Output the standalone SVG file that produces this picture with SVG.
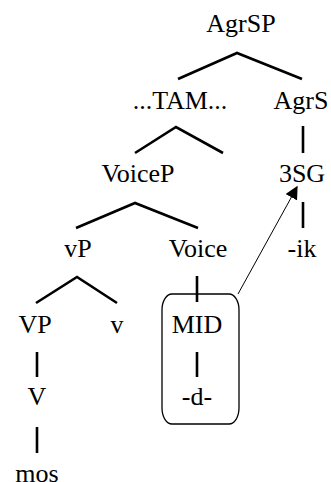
<svg xmlns="http://www.w3.org/2000/svg" width="331" height="482" viewBox="0 0 331 482">
  <style>
    text { font-family: "Liberation Serif", "Times New Roman", serif; font-size: 26px; fill: #000; text-anchor: middle; }
    .branch { stroke: #000; stroke-width: 2.6; fill: none; stroke-linecap: butt; }
    .move { stroke: #000; stroke-width: 1; fill: none; }
    .box { stroke: #000; stroke-width: 1.3; fill: none; }
  </style>
  <defs>
    <marker id="head" viewBox="0 0 10 10" refX="9" refY="5" markerWidth="13" markerHeight="13" markerUnits="userSpaceOnUse" orient="auto">
      <path d="M0,0 L10,5 L0,10 z" fill="#000"/>
    </marker>
  </defs>

  <rect width="331" height="482" fill="#fff"/>

  <!-- tree branches -->
  <g id="connectors">
    <polyline class="branch" points="178,79 237,53 302,79"/>
    <polyline class="branch" points="135,153 176,127 223,153"/>
    <line class="branch" x1="303" y1="126" x2="303" y2="153"/>
    <polyline class="branch" points="76,228 135,203 198,228"/>
    <line class="branch" x1="303" y1="202" x2="303" y2="228"/>
    <polyline class="branch" points="36,303 77,277 117,303"/>
    <line class="branch" x1="197" y1="276" x2="197" y2="302"/>
    <line class="branch" x1="37" y1="352" x2="37" y2="377"/>
    <line class="branch" x1="197" y1="352" x2="197" y2="377"/>
    <line class="branch" x1="37" y1="427" x2="37" y2="453"/>
    <!-- head movement to agreement -->
    <line class="move" x1="238" y1="294" x2="297" y2="187" marker-end="url(#head)"/>
  </g>

  <g id="agrsp"><text x="241" y="32">AgrSP</text></g>
  <g id="tam"><text x="180" y="109">...TAM...</text></g>
  <g id="agrs"><text x="301" y="109">AgrS</text></g>
  <g id="voicep"><text x="138" y="182">VoiceP</text></g>
  <g id="sg3"><text x="302" y="182">3SG</text></g>
  <g id="vp-small"><text x="78" y="257">vP</text></g>
  <g id="voice"><text x="198" y="257">Voice</text></g>
  <g id="ik"><text x="302" y="257">-ik</text></g>
  <g id="VP"><text x="35" y="333">VP</text></g>
  <g id="v-head"><text x="117" y="333">v</text></g>
  <g id="mid-group">
    <rect class="box" x="162" y="294" width="77" height="130" rx="10" ry="16"/>
    <text x="197" y="333">MID</text>
    <text x="197" y="405">-d-</text>
  </g>
  <g id="V-head"><text x="37" y="405">V</text></g>
  <g id="mos"><text x="37" y="482">mos</text></g>
</svg>
